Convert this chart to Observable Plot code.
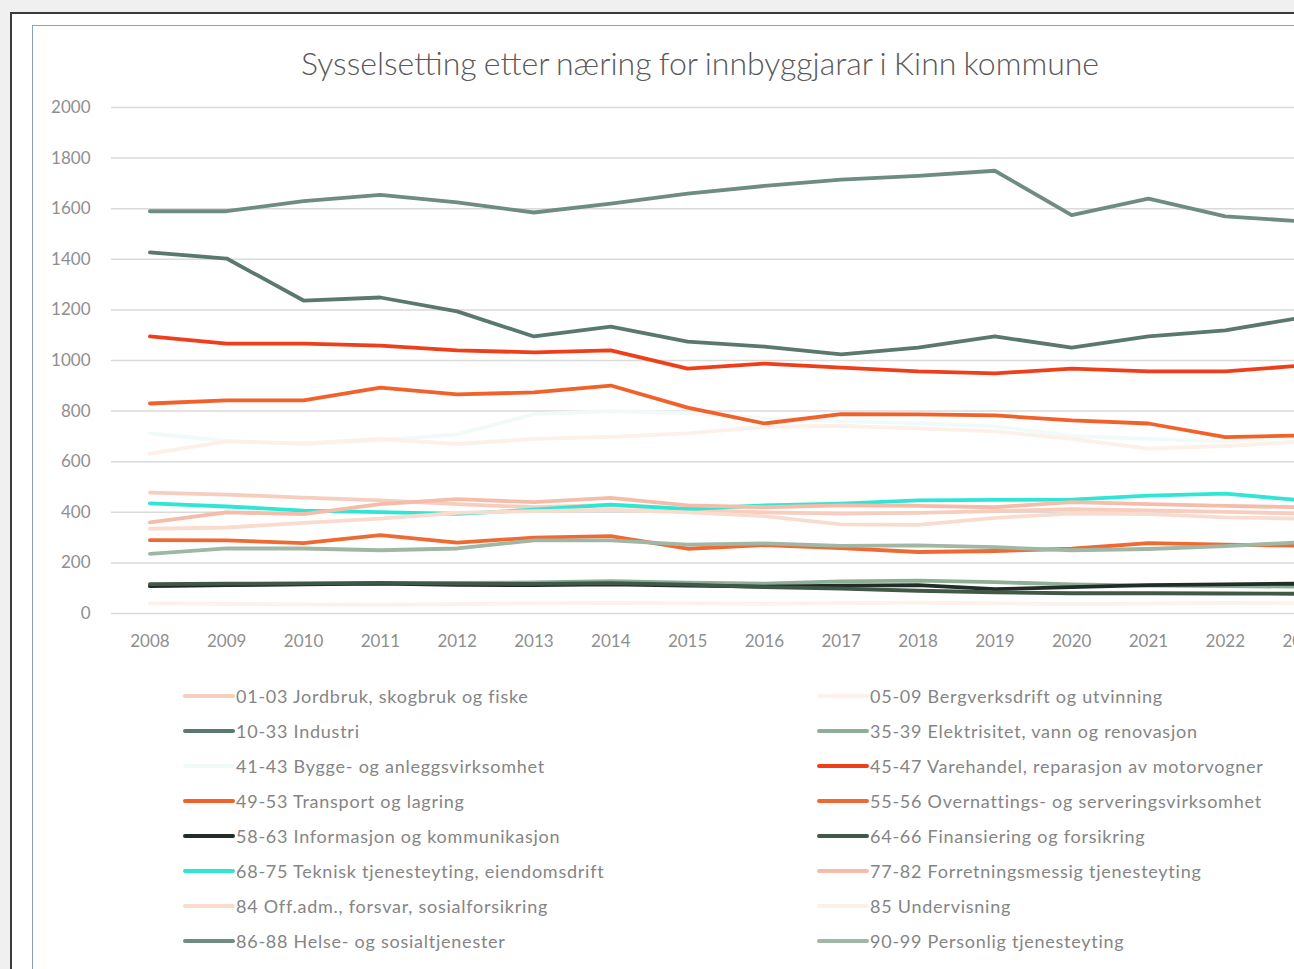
<!DOCTYPE html>
<html><head><meta charset="utf-8">
<script src="https://cdn.jsdelivr.net/npm/d3@7"></script>
<script src="https://cdn.jsdelivr.net/npm/@observablehq/plot@0.6"></script>
<style>
html,body{margin:0;padding:0;width:1294px;height:969px;overflow:hidden;background:#f0f0f0;font-family:Lato,"Open Sans",sans-serif}
#page{position:relative;width:1294px;height:969px;overflow:hidden;background:#f0f0f0}
#frame{position:absolute;left:10px;top:12px;width:1400px;height:1000px;background:#fff;border-left:2px solid #3a3a3a;border-top:2px solid #3a3a3a}
#area{position:absolute;left:32px;top:25px;width:1400px;height:1000px;background:#fff;border-left:1px solid #8d9fc2;border-top:1px solid #8d9fc2}
#plot{position:absolute;left:0;top:0;width:1400px}
#plot svg{max-width:none !important}
#title{position:absolute;left:0;top:43px;width:1400px;text-align:center;font-size:32px;font-weight:300;color:#595959;word-spacing:-1.5px;white-space:nowrap}
.leg{position:absolute;height:22px;font-size:18px;letter-spacing:0.75px;color:#858585;white-space:nowrap;line-height:22px}
.sw{position:absolute;height:4px;border-radius:2px}
</style></head>
<body><div id="page"><div id="frame"></div><div id="area"></div><div id="plot"></div><div id="title">Sysselsetting etter næring for innbyggjarar i Kinn kommune</div><div id="legend"></div></div>
<script>
const years = [2008,2009,2010,2011,2012,2013,2014,2015,2016,2017,2018,2019,2020,2021,2022,2023];
const yTicks = [0,200,400,600,800,1000,1200,1400,1600,1800,2000];
const seriesNames = [
  "01-03 Jordbruk, skogbruk og fiske",
  "05-09 Bergverksdrift og utvinning",
  "10-33 Industri",
  "35-39 Elektrisitet, vann og renovasjon",
  "41-43 Bygge- og anleggsvirksomhet",
  "45-47 Varehandel, reparasjon av motorvogner",
  "49-53 Transport og lagring",
  "55-56 Overnattings- og serveringsvirksomhet",
  "58-63 Informasjon og kommunikasjon",
  "64-66 Finansiering og forsikring",
  "68-75 Teknisk tjenesteyting, eiendomsdrift",
  "77-82 Forretningsmessig tjenesteyting",
  "84 Off.adm., forsvar, sosialforsikring",
  "85 Undervisning",
  "86-88 Helse- og sosialtjenester",
  "90-99 Personlig tjenesteyting"
];
const jordbruk     = [478,470,458,447,432,420,428,410,400,395,398,405,412,408,402,395];
const bergverk     = [40,38,36,35,37,40,42,40,38,41,43,40,37,39,42,40];
const industri     = [1427,1403,1237,1249,1194,1095,1134,1075,1055,1024,1051,1095,1051,1095,1119,1170];
const elektrisitet = [110,112,116,118,121,123,128,122,118,127,130,124,115,110,108,106];
const bygge        = [712,682,670,684,708,788,800,792,772,760,752,740,702,690,680,698];
const varehandel   = [1095,1067,1067,1059,1040,1032,1040,968,988,972,957,949,968,957,957,980];
const transport    = [830,842,842,893,866,874,901,814,751,788,787,783,763,751,697,704];
const overnatting  = [290,289,278,310,280,300,306,256,270,258,243,247,256,278,272,268];
const informasjon  = [108,112,115,118,113,112,115,110,106,110,112,96,104,112,115,118];
const finans       = [116,118,119,121,118,117,120,114,104,98,90,84,80,80,79,78];
const teknisk      = [435,423,407,401,394,410,430,413,427,434,447,449,450,466,474,447];
const forretning   = [360,400,393,432,452,440,457,427,420,427,425,420,440,432,425,420];
const offadm       = [335,340,358,375,398,405,410,400,385,352,350,378,395,393,380,375];
const undervisning = [632,680,672,690,670,690,698,712,738,742,732,720,690,652,662,680];
const helse        = [1590,1590,1630,1655,1625,1585,1620,1660,1690,1715,1730,1750,1575,1640,1570,1550];
const personlig    = [236,257,257,250,257,289,289,272,277,267,269,262,250,255,266,282];
const seriesValues = [jordbruk,bergverk,industri,elektrisitet,bygge,varehandel,transport,overnatting,informasjon,finans,teknisk,forretning,offadm,undervisning,helse,personlig];
const seriesColors = ["#f7cdbd","#fdf1ec","#5b786c","#8fae97","#f0fbf9","#ef3f1a","#f0622a","#ef6a32","#222d27","#3f5848","#2fe6d5","#f5bcaa","#fadccf","#fdf0e9","#6f8c80","#a0b7a5"];

const table = seriesNames.flatMap((s,i)=>years.map((y,j)=>({series:s, year:y, value:seriesValues[i][j]})));

const marks = [
  Plot.ruleY(yTicks, {stroke:"#dadada", strokeWidth:1.5}),
  Plot.axisY({ticks:yTicks, tickSize:0, tickPadding:21, fontSize:17, fill:"#8f8f8f", label:null, tickFormat:d=>String(d)}),
  Plot.axisX({tickSize:0, tickPadding:21, fontSize:17, fill:"#8f8f8f", label:null, tickFormat:d=>String(d)})
];
seriesNames.forEach((s,i)=>{
  marks.push(Plot.line(table.filter(d=>d.series===s), {x:"year", y:"value", stroke:seriesColors[i], strokeWidth:3.8, strokeLinejoin:"round", strokeLinecap:"round"}));
});

const chart = Plot.plot({
  width:1400, height:663,
  marginLeft:111, marginRight:60, marginTop:107, marginBottom:50,
  style:{background:"transparent", fontFamily:"Lato, sans-serif", maxWidth:"none"},
  x:{type:"point", domain:years, padding:0.5, round:false},
  y:{domain:[0,2000]},
  marks
});
document.getElementById("plot").appendChild(chart);

const legend = document.getElementById("legend");
seriesNames.forEach((s,i)=>{
  const row = Math.floor(i/2), col = i%2;
  const cy = 696 + row*35;
  const sx = col===0 ? 183 : 817;
  const sw = document.createElement("div");
  sw.className = "sw";
  sw.style.left = sx+"px"; sw.style.top = (cy-2)+"px"; sw.style.width = "52px";
  sw.style.background = seriesColors[i];
  legend.appendChild(sw);
  const t = document.createElement("div");
  t.className = "leg";
  t.style.left = (sx+53)+"px"; t.style.top = (cy-11)+"px";
  t.textContent = s;
  legend.appendChild(t);
});
</script>
</body></html>
